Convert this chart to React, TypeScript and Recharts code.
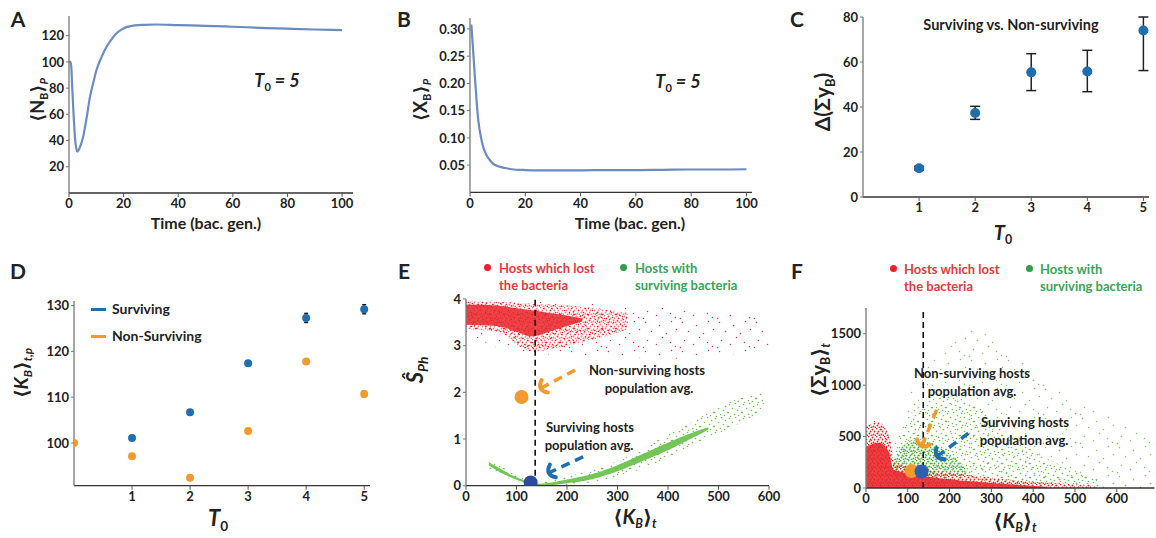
import React from 'react';
import {
  ComposedChart,
  Line,
  Area,
  Scatter,
  XAxis,
  YAxis,
  ErrorBar,
  ReferenceLine,
} from 'recharts';

const FONT = 'Lato, "Open Sans", "DejaVu Sans", sans-serif';

// ---- A: <N_B>_P over time
const timeA = [0, 0.5, 0.8, 1.2, 1.6, 2.2, 3, 3.8, 5.2, 6.5, 7.7, 9, 10.1, 12, 13.8, 15.5, 17.5, 19.5, 21, 24, 27, 32, 40, 50, 60, 70, 80, 90, 100];
const nbA = [100, 100, 97, 80, 63, 42, 31.5, 34, 43, 58, 73.5, 85, 94, 104, 111.7, 117, 122, 125, 126.5, 127.8, 128.3, 128.5, 128, 127.5, 126.8, 126, 125.3, 124.7, 124.2];

// ---- B: <X_B>_P over time
const timeB = [0.5, 1, 1.8, 2.5, 3, 4, 4.8, 6, 7.2, 8.5, 10.2, 12.5, 15, 20, 25, 30, 40, 50, 60, 70, 80, 90, 100];
const xbB = [0.308, 0.27, 0.21, 0.16, 0.132, 0.1, 0.083, 0.068, 0.059, 0.052, 0.048, 0.045, 0.0425, 0.041, 0.0405, 0.0405, 0.0405, 0.041, 0.041, 0.0415, 0.042, 0.042, 0.0425];

// ---- C: surviving vs non-surviving difference
const t0C = [1, 2, 3, 4, 5];
const deltaC = [12.8, 37.3, 55.4, 55.8, 74];
const lowC = [12, 34.5, 47.3, 46.8, 56.2];
const highC = [13.6, 40.3, 63.7, 65.2, 80];

// ---- D: <K_B>_t,p
const t0Surv = [1, 2, 3, 4, 5];
const kbSurv = [101.1, 106.7, 117.4, 127.3, 129.2];
const errSurv = [0.4, 0.4, 0.4, 1.0, 1.0];
const t0Non = [0, 1, 2, 3, 4, 5];
const kbNon = [100, 97.1, 92.4, 102.6, 117.8, 110.7];
const errNon = [0, 0.5, 0.5, 0.5, 0.6, 0.6];

// ---- E: S_Ph vs <K_B>_t (clouds read as bands)
const redSparseEx = [0, 100, 200, 300, 400, 500, 600];
const redSparseElo = [3.3, 2.85, 2.8, 2.75, 2.72, 2.78, 2.95];
const redSparseEhi = [3.97, 3.95, 3.92, 3.86, 3.8, 3.72, 3.55];
const redMidEx = [0, 60, 130, 200, 260, 320];
const redMidElo = [3.35, 3.3, 2.88, 3.0, 3.15, 3.35];
const redMidEhi = [3.96, 3.94, 3.9, 3.86, 3.8, 3.7];
const redCoreEx = [0, 60, 100, 130, 165, 200, 230];
const redCoreElo = [3.45, 3.42, 3.3, 3.2, 3.3, 3.42, 3.52];
const redCoreEhi = [3.88, 3.86, 3.8, 3.76, 3.7, 3.64, 3.58];
const greenHaloEx = [45, 90, 135, 180, 250, 320, 380, 450, 520, 590];
const greenHaloElo = [0.38, 0.13, 0, 0, 0.08, 0.26, 0.5, 0.88, 1.22, 1.6];
const greenHaloEhi = [0.55, 0.3, 0.08, 0.15, 0.34, 0.62, 0.98, 1.38, 1.78, 2.05];
const greenCoreEx = [45, 70, 90, 120, 140, 170, 200, 250, 300, 350, 400, 440, 480];
const greenCoreElo = [0.43, 0.27, 0.17, 0.05, 0.0, 0.01, 0.05, 0.14, 0.31, 0.53, 0.76, 0.98, 1.2];
const greenCoreEhi = [0.51, 0.35, 0.23, 0.1, 0.04, 0.07, 0.13, 0.25, 0.44, 0.68, 0.92, 1.1, 1.25];
const avgNonE = { x: 110, y: 1.9 };
const avgSurvE = { x: 128, y: 0.07 };
const arrowNonE = [{ x: 216, y: 2.48 }, { x: 147, y: 2.08 }];
const arrowSurvE = [{ x: 232, y: 0.62 }, { x: 163, y: 0.27 }];

// ---- F: <Sum y_B>_t vs <K_B>_t
const redSparseFx = [0, 40, 70, 150, 300, 450, 690];
const redSparseFhi = [680, 720, 380, 260, 180, 120, 70];
const greenSparseFx = [60, 100, 170, 260, 350, 450, 550, 690];
const greenSparseFlo = [30, 60, 40, 30, 20, 15, 10, 5];
const greenSparseFhi = [320, 950, 1300, 1550, 1300, 1000, 760, 500];
const greenMidFx = [62, 100, 140, 200, 260, 320, 400, 480, 560];
const greenMidFlo = [120, 80, 70, 60, 50, 40, 25, 15, 10];
const greenMidFhi = [280, 680, 820, 900, 820, 600, 360, 200, 90];
const greenDenseFx = [65, 90, 120, 160, 200, 240];
const greenDenseFlo = [140, 110, 100, 100, 110, 130];
const greenDenseFhi = [250, 420, 470, 430, 330, 200];
const redMidFx = [0, 30, 55, 68, 100, 200, 300, 420, 550];
const redMidFhi = [600, 640, 520, 260, 210, 150, 100, 55, 25];
const redCoreFx = [0, 30, 55, 65, 100, 150, 250, 350, 430];
const redCoreFhi = [400, 440, 350, 180, 145, 110, 65, 35, 12];
const avgNonF = { x: 109, y: 165 };
const avgSurvF = { x: 133, y: 160 };
const arrowNonF = [{ x: 169, y: 760 }, { x: 133, y: 402 }];
const arrowSurvF = [{ x: 245, y: 532 }, { x: 169, y: 305 }];
const cutoffK = 137;

const line = (xs: number[], ys: number[]) => xs.map((x, i) => ({ x, y: ys[i] }));
const band = (xs: number[], lo: number[] | null, hi: number[]) =>
  xs.map((x, i) => ({ x, r: [lo ? lo[i] : 0, hi[i]] }));

const RED = '#e8242a';
const GREEN = '#66c046';
const ORANGE = '#f39a2e';
const BLUE = '#1f6fae';

const axisLine = { stroke: '#333', strokeWidth: 1.3 };
const tickStyle = { fill: '#222', fontSize: 13, fontWeight: 700, fontFamily: FONT };

const YW = 46;
const XH = 26;
const PADT = 8;
const PADR = 16;

type Box = { l: number; t: number; r: number; b: number };

function Frame({ box, children }: { box: Box; children: React.ReactNode }) {
  const left = box.l - YW;
  const top = box.t - PADT;
  const width = box.r - left + PADR;
  const height = box.b + XH - top;
  return (
    <div style={{ position: 'absolute', left, top }}>
      <ComposedChart width={width} height={height} margin={{ top: PADT, right: PADR, bottom: 0, left: 0 }}>
        {children}
      </ComposedChart>
    </div>
  );
}

const Txt = ({ x, y, size = 13, color = '#222', rot = 0, italic = false, align = 'center', children }: any) => (
  <div
    style={{
      position: 'absolute',
      left: x,
      top: y,
      transform: `translate(${align === 'left' ? '0' : '-50%'}, -50%) rotate(${rot}deg)`,
      fontSize: size,
      fontWeight: 700,
      color,
      fontStyle: italic ? 'italic' : 'normal',
      whiteSpace: 'nowrap',
      lineHeight: 1,
      fontFamily: FONT,
    }}
  >
    {children}
  </div>
);

const Sub = ({ children, it = false }: any) => (
  <span style={{ fontSize: '0.62em', position: 'relative', top: '0.35em', fontStyle: it ? 'italic' : 'normal' }}>{children}</span>
);

const arrowHead = (color: string, angle: number) => (p: any) => {
  if (p.index !== 1) return <g key={`a${p.index}`} />;
  return (
    <path
      key={`a${p.index}`}
      d="M 5 -7 Q -4 0 5 7"
      fill="none"
      stroke={color}
      strokeWidth={4}
      strokeLinecap="round"
      transform={`translate(${p.cx},${p.cy}) rotate(${angle - 180})`}
    />
  );
};

// speckle textures for the point clouds (tile-relative positions)
const SPARSE_PTS = [[3, 2], [17, 5], [29, 1], [9, 11], [24, 13], [34, 9], [5, 20], [14, 24], [28, 22], [20, 17], [1, 27], [33, 26]];
const MID_PTS = [[1, 1], [7, 0], [11, 3], [4, 5], [9, 7], [0, 9], [13, 9], [6, 11], [2, 13], [10, 12]];
const DENSE_PTS = [[0, 0], [4, 1], [2, 3], [6, 3], [1, 5], [5, 6], [3, 7], [7, 7]];

function Patterns() {
  const pat = (id: string, color: string, pts: number[][], w: number, h: number, r: number) => (
    <pattern id={id} width={w} height={h} patternUnits="userSpaceOnUse">
      {pts.map(([cx, cy], i) => (
        <circle key={i} cx={cx + 0.5} cy={cy + 0.5} r={r} fill={color} />
      ))}
    </pattern>
  );
  return (
    <svg width={0} height={0} style={{ position: 'absolute' }}>
      <defs>
        {pat('redSparse', '#e0393c', SPARSE_PTS, 37, 29, 0.75)}
        {pat('redMid', '#e42a2e', MID_PTS, 14, 14, 0.8)}
        {pat('redDense', '#e4262b', DENSE_PTS, 8, 8, 0.9)}
        {pat('greenSparse', '#7cc860', SPARSE_PTS, 37, 29, 0.75)}
        {pat('greenMid', '#6cc24e', MID_PTS, 14, 14, 0.8)}
        {pat('greenDense', '#54b437', DENSE_PTS, 8, 8, 0.95)}
      </defs>
    </svg>
  );
}

const xAxisProps = (domain: number[], ticks: number[]) => ({
  type: 'number' as const,
  dataKey: 'x',
  domain,
  ticks,
  allowDataOverflow: true,
  axisLine,
  tick: tickStyle,
  tickSize: 4,
  tickLine: { stroke: '#555' },
  height: XH,
  interval: 0 as const,
});

const yAxisProps = (domain: number[], ticks: number[], fmt?: (v: number) => string) => ({
  type: 'number' as const,
  domain,
  ticks,
  allowDataOverflow: true,
  axisLine: { stroke: '#777', strokeWidth: 1.3 },
  tick: tickStyle,
  tickSize: 3,
  tickLine: { stroke: '#777' },
  width: YW,
  interval: 0 as const,
  tickFormatter: fmt,
});

const dotShape = (r: number, fill: string) => (p: any) => <circle cx={p.cx} cy={p.cy} r={r} fill={fill} />;

export default function App() {
  const dataA = line(timeA, nbA);
  const dataB = line(timeB, xbB);
  const dataC = t0C.map((x, i) => ({ x, y: deltaC[i], e: [deltaC[i] - lowC[i], highC[i] - deltaC[i]] }));
  const dataDs = t0Surv.map((x, i) => ({ x, y: kbSurv[i], e: errSurv[i] }));
  const dataDn = t0Non.map((x, i) => ({ x, y: kbNon[i], e: errNon[i] }));

  return (
    <div style={{ position: 'absolute', left: 0, top: 0, width: 1156, height: 538, background: '#fff', overflow: 'hidden', fontFamily: FONT }}>
      <Patterns />

      {/* A */}
      <Frame box={{ l: 69, t: 16, r: 353, b: 193 }}>
        <XAxis {...xAxisProps([0, 104], [0, 20, 40, 60, 80, 100])} />
        <YAxis {...yAxisProps([0, 135], [20, 40, 60, 80, 100, 120])} />
        <Line data={dataA} dataKey="y" type="monotone" stroke="#6a8cc0" strokeWidth={2.2} dot={false} isAnimationActive={false} />
      </Frame>
      <Txt x={18} y={18} size={21}>A</Txt>
      <Txt x={37} y={100} size={18} rot={-90}>⟨N<Sub>B</Sub>⟩<Sub it>P</Sub></Txt>
      <Txt x={206} y={223} size={16}>Time (bac. gen.)</Txt>
      <Txt x={277} y={80} size={18} italic>T<Sub>0</Sub> = 5</Txt>

      {/* B */}
      <Frame box={{ l: 470, t: 17.6, r: 752, b: 192 }}>
        <XAxis {...xAxisProps([0, 102], [0, 20, 40, 60, 80, 100])} />
        <YAxis {...yAxisProps([0, 0.32], [0.05, 0.1, 0.15, 0.2, 0.25, 0.3], (v) => v.toFixed(2))} />
        <Line data={dataB} dataKey="y" type="monotone" stroke="#6a8cc0" strokeWidth={2.2} dot={false} isAnimationActive={false} />
      </Frame>
      <Txt x={404} y={18} size={21}>B</Txt>
      <Txt x={420} y={100} size={18} rot={-90}>⟨X<Sub>B</Sub>⟩<Sub it>P</Sub></Txt>
      <Txt x={630} y={223} size={16}>Time (bac. gen.)</Txt>
      <Txt x={678} y={81} size={18} italic>T<Sub>0</Sub> = 5</Txt>

      {/* C */}
      <Frame box={{ l: 863, t: 17, r: 1149, b: 197 }}>
        <XAxis {...xAxisProps([0, 5.1], [1, 2, 3, 4, 5])} />
        <YAxis {...yAxisProps([0, 80], [0, 20, 40, 60, 80])} />
        <Scatter data={dataC} dataKey="y" shape={dotShape(5, BLUE)} isAnimationActive={false} />
        <Scatter data={dataC} dataKey="y" shape={() => <g />} isAnimationActive={false}>
          <ErrorBar dataKey="e" direction="y" width={5} stroke="#222" strokeWidth={1.5} />
        </Scatter>
      </Frame>
      <Txt x={797} y={18} size={21}>C</Txt>
      <Txt x={1011} y={25} size={14.5}>Surviving vs. Non-surviving</Txt>
      <Txt x={822} y={102} size={21} rot={-90}>Δ(Σy<Sub>B</Sub>)</Txt>
      <Txt x={1003} y={232} size={20} italic>T<Sub>0</Sub></Txt>

      {/* D */}
      <Frame box={{ l: 74, t: 300.7, r: 370, b: 485.3 }}>
        <XAxis {...xAxisProps([0, 5.1], [1, 2, 3, 4, 5])} />
        <YAxis {...yAxisProps([90.7, 131], [100, 110, 120, 130])} />
        <Scatter data={dataDs} dataKey="y" shape={dotShape(4, BLUE)} isAnimationActive={false} />
        <Scatter data={dataDn} dataKey="y" shape={dotShape(4, ORANGE)} isAnimationActive={false} />
        <Scatter data={dataDs} dataKey="y" shape={() => <g />} isAnimationActive={false}>
          <ErrorBar dataKey="e" direction="y" width={2} stroke="#1a1a1a" strokeWidth={1.4} />
        </Scatter>
        <Scatter data={dataDn} dataKey="y" shape={() => <g />} isAnimationActive={false}>
          <ErrorBar dataKey="e" direction="y" width={2} stroke="#1a1a1a" strokeWidth={1.4} />
        </Scatter>
      </Frame>
      <Txt x={18} y={270} size={21}>D</Txt>
      <div style={{ position: 'absolute', left: 91, top: 307.5, width: 15, height: 3, background: BLUE }} />
      <Txt x={112} y={309} size={14} align="left">Surviving</Txt>
      <div style={{ position: 'absolute', left: 91, top: 334.5, width: 15, height: 3, background: ORANGE }} />
      <Txt x={112} y={336} size={14} align="left">Non-Surviving</Txt>
      <Txt x={20} y={373} size={19} rot={-90}>⟨<i>K</i><Sub it>B</Sub>⟩<Sub it>t,p</Sub></Txt>
      <Txt x={218} y={518} size={22} italic>T<Sub>0</Sub></Txt>

      {/* E */}
      <Frame box={{ l: 466, t: 299, r: 769, b: 485.7 }}>
        <XAxis {...xAxisProps([0, 600], [0, 100, 200, 300, 400, 500, 600])} />
        <YAxis {...yAxisProps([0, 4], [0, 1, 2, 3, 4])} />
        <Area data={band(redSparseEx, redSparseElo, redSparseEhi)} dataKey="r" type="monotone" stroke="none" fill="url(#redSparse)" fillOpacity={1} isAnimationActive={false} />
        <Area data={band(redMidEx, redMidElo, redMidEhi)} dataKey="r" type="monotone" stroke="none" fill="url(#redMid)" fillOpacity={1} isAnimationActive={false} />
        <Area data={band(redMidEx, redMidElo, redMidEhi)} dataKey="r" type="monotone" stroke="none" fill="url(#redDense)" fillOpacity={0.6} isAnimationActive={false} />
        <Area data={band(redCoreEx, redCoreElo, redCoreEhi)} dataKey="r" type="monotone" stroke="none" fill={RED} fillOpacity={0.85} isAnimationActive={false} />
        <Area data={band(greenHaloEx, greenHaloElo, greenHaloEhi)} dataKey="r" type="monotone" stroke="none" fill="url(#greenMid)" fillOpacity={1} isAnimationActive={false} />
        <Area data={band(greenCoreEx, greenCoreElo, greenCoreEhi)} dataKey="r" type="monotone" stroke="none" fill={GREEN} fillOpacity={0.9} isAnimationActive={false} />
        <ReferenceLine x={cutoffK} stroke="#111" strokeWidth={1.6} strokeDasharray="6 4" />
        <Line data={arrowNonE} dataKey="y" stroke={ORANGE} strokeWidth={3.5} strokeDasharray="9 6" dot={arrowHead(ORANGE, 153)} activeDot={false} isAnimationActive={false} />
        <Line data={arrowSurvE} dataKey="y" stroke={BLUE} strokeWidth={3.5} strokeDasharray="9 6" dot={arrowHead(BLUE, 155)} activeDot={false} isAnimationActive={false} />
        <Scatter data={[avgNonE]} dataKey="y" shape={dotShape(7, ORANGE)} isAnimationActive={false} />
        <Scatter data={[avgSurvE]} dataKey="y" shape={dotShape(7, '#2c4a9e')} isAnimationActive={false} />
      </Frame>
      <Txt x={404} y={270} size={21}>E</Txt>
      <div style={{ position: 'absolute', left: 484, top: 264, width: 7, height: 7, borderRadius: 4, background: RED }} />
      <Txt x={499} y={268} size={13} color="#e23a3e" align="left">Hosts which lost</Txt>
      <Txt x={499} y={285} size={13} color="#e23a3e" align="left">the bacteria</Txt>
      <div style={{ position: 'absolute', left: 620, top: 264, width: 7, height: 7, borderRadius: 4, background: '#2f9c4e' }} />
      <Txt x={635} y={268} size={13} color="#3aa35a" align="left">Hosts with</Txt>
      <Txt x={635} y={285} size={13} color="#3aa35a" align="left">surviving bacteria</Txt>
      <Txt x={647} y={370} size={13}>Non-surviving hosts</Txt>
      <Txt x={649} y={388} size={13}>population avg.</Txt>
      <Txt x={590} y={427} size={13}>Surviving hosts</Txt>
      <Txt x={589} y={445} size={13}>population avg.</Txt>
      <Txt x={415} y={370} size={22} rot={-90} italic>Ŝ<Sub it>Ph</Sub></Txt>
      <Txt x={635} y={516} size={20}>⟨<i>K</i><Sub it>B</Sub>⟩<Sub it>t</Sub></Txt>

      {/* F */}
      <Frame box={{ l: 866, t: 308, r: 1154.4, b: 488 }}>
        <XAxis {...xAxisProps([0, 690], [0, 100, 200, 300, 400, 500, 600])} />
        <YAxis {...yAxisProps([0, 1750], [0, 500, 1000, 1500])} />
        <Area data={band(redSparseFx, null, redSparseFhi)} dataKey="r" type="monotone" stroke="none" fill="url(#redSparse)" fillOpacity={1} isAnimationActive={false} />
        <Area data={band(greenSparseFx, greenSparseFlo, greenSparseFhi)} dataKey="r" type="monotone" stroke="none" fill="url(#greenSparse)" fillOpacity={1} isAnimationActive={false} />
        <Area data={band(greenMidFx, greenMidFlo, greenMidFhi)} dataKey="r" type="monotone" stroke="none" fill="url(#greenMid)" fillOpacity={1} isAnimationActive={false} />
        <Area data={band(greenDenseFx, greenDenseFlo, greenDenseFhi)} dataKey="r" type="monotone" stroke="none" fill="url(#greenDense)" fillOpacity={1} isAnimationActive={false} />
        <Area data={band(redMidFx, null, redMidFhi)} dataKey="r" type="monotone" stroke="none" fill="url(#redDense)" fillOpacity={1} isAnimationActive={false} />
        <Area data={band(redCoreFx, null, redCoreFhi)} dataKey="r" type="monotone" stroke="none" fill={RED} fillOpacity={0.88} isAnimationActive={false} />
        <ReferenceLine x={cutoffK} stroke="#111" strokeWidth={1.6} strokeDasharray="6 4" />
        <Line data={arrowNonF} dataKey="y" stroke={ORANGE} strokeWidth={3.5} strokeDasharray="9 6" dot={arrowHead(ORANGE, 112)} activeDot={false} isAnimationActive={false} />
        <Line data={arrowSurvF} dataKey="y" stroke={BLUE} strokeWidth={3.5} strokeDasharray="9 6" dot={arrowHead(BLUE, 143)} activeDot={false} isAnimationActive={false} />
        <Scatter data={[avgNonF]} dataKey="y" shape={dotShape(7, ORANGE)} isAnimationActive={false} />
        <Scatter data={[avgSurvF]} dataKey="y" shape={dotShape(7, '#2d5fb2')} isAnimationActive={false} />
      </Frame>
      <Txt x={797} y={270} size={21}>F</Txt>
      <div style={{ position: 'absolute', left: 890, top: 265, width: 7, height: 7, borderRadius: 4, background: RED }} />
      <Txt x={904} y={269} size={13} color="#e23a3e" align="left">Hosts which lost</Txt>
      <Txt x={904} y={286} size={13} color="#e23a3e" align="left">the bacteria</Txt>
      <div style={{ position: 'absolute', left: 1026, top: 265, width: 7, height: 7, borderRadius: 4, background: '#2f9c4e' }} />
      <Txt x={1040} y={269} size={13} color="#3aa35a" align="left">Hosts with</Txt>
      <Txt x={1040} y={286} size={13} color="#3aa35a" align="left">surviving bacteria</Txt>
      <Txt x={972} y={373} size={13}>Non-surviving hosts</Txt>
      <Txt x={972} y={391} size={13}>population avg.</Txt>
      <Txt x={1025} y={422} size={13}>Surviving hosts</Txt>
      <Txt x={1024} y={440} size={13}>population avg.</Txt>
      <Txt x={818} y={370} size={20} rot={-90}>⟨Σy<Sub>B</Sub>⟩<Sub it>t</Sub></Txt>
      <Txt x={1015} y={520} size={20}>⟨<i>K</i><Sub it>B</Sub>⟩<Sub it>t</Sub></Txt>
    </div>
  );
}
